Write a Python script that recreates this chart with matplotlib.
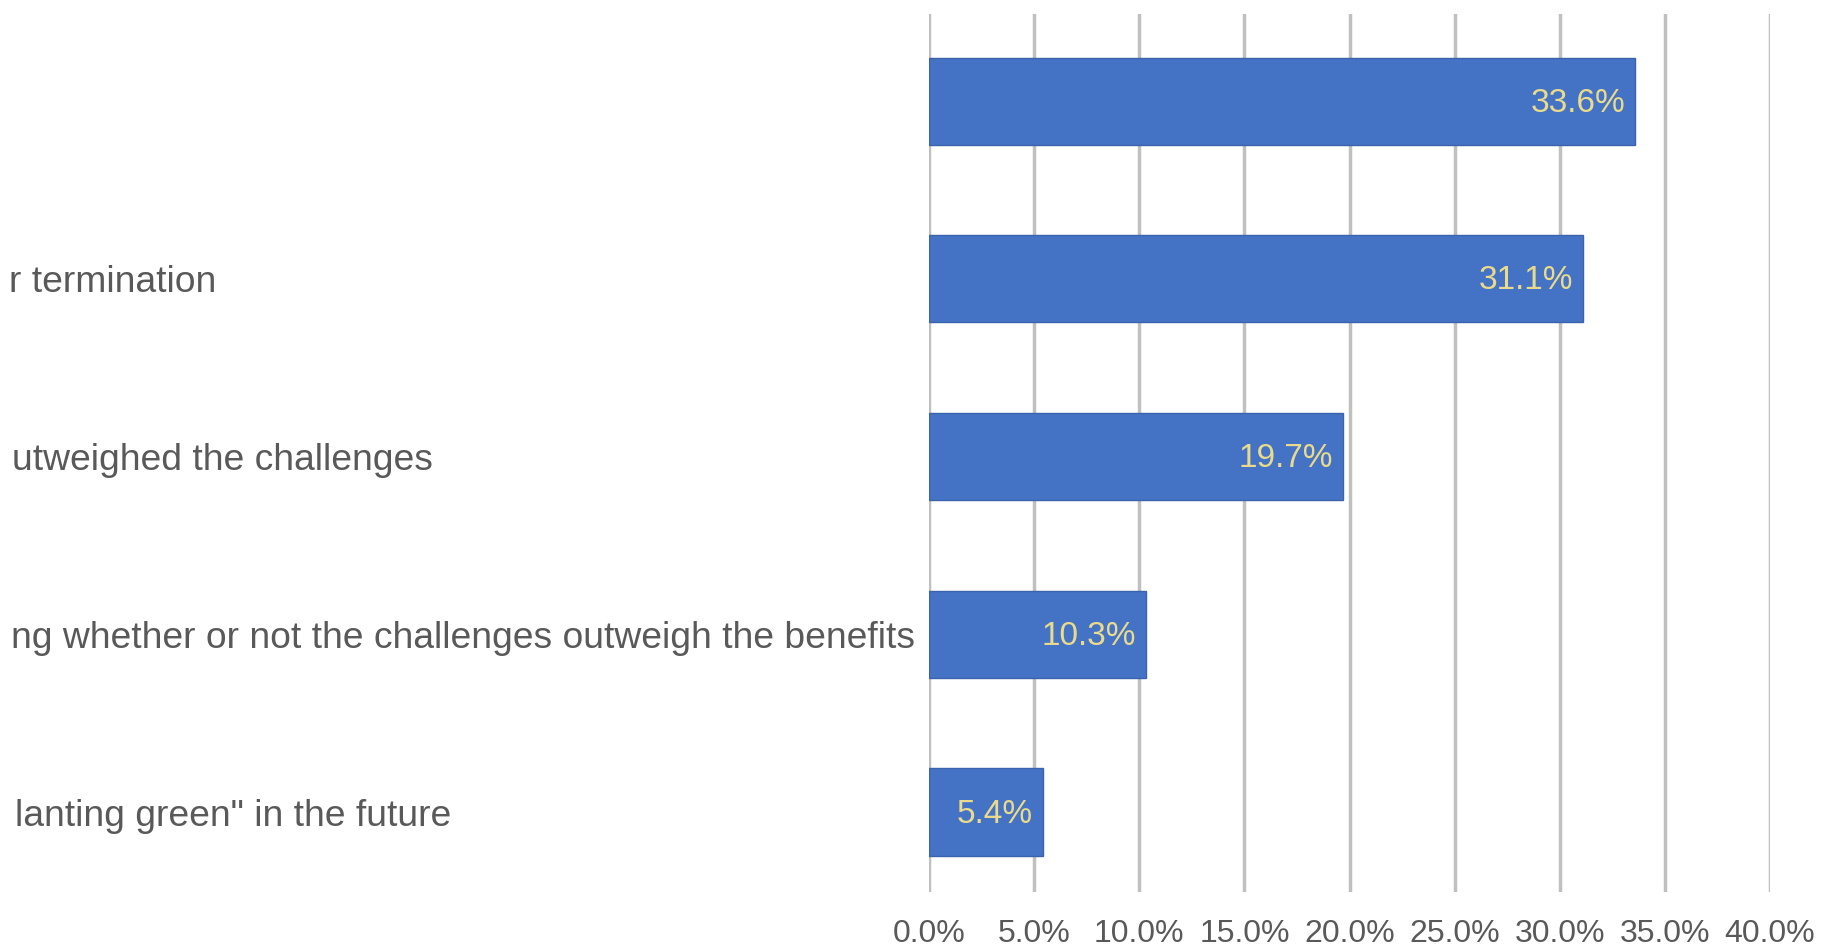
import matplotlib.pyplot as plt
from matplotlib.ticker import FuncFormatter

# Visible (cropped) category labels, top to bottom; the first one is cut off entirely
labels = [
    "",
    "r termination",
    "utweighed the challenges",
    "ng whether or not the challenges outweigh the benefits",
    "lanting green\" in the future",
]
values = [33.6, 31.1, 19.7, 10.3, 5.4]

# right edge of each cropped label, in figure pixels (labels are left aligned off-canvas)
label_right_px = [0, 216, 433, 915, 451]

bar_color = "#4472C4"
label_color = "#EADB8C"
text_gray = "#595959"

fig = plt.figure(figsize=(18.21, 9.47), dpi=100)
ax_left = 929
ax = fig.add_axes([ax_left / 1821, 55 / 947, 841 / 1821, 878 / 947])

y = list(range(len(values)))
bars = ax.barh(y, values, height=0.49, color=bar_color,
               edgecolor="#3b63ad", linewidth=1, zorder=3)

for bar, v in zip(bars, values):
    ax.annotate(f"{v:.1f}%", xy=(bar.get_width(), bar.get_y() + bar.get_height() / 2),
                xytext=(-10, -2), textcoords="offset pixels",
                ha="right", va="center", fontsize=24,
                color=label_color, family="Liberation Sans", zorder=4)

ax.set_xlim(0, 40)
ax.set_ylim(4.45, -0.49)
ax.set_xticks(range(0, 41, 5))
ax.xaxis.set_major_formatter(FuncFormatter(lambda x, _: f"{x:.1f}%"))
ax.set_yticks([])

# category labels
for yi, lab, rpx in zip(y, labels, label_right_px):
    if not lab:
        continue
    ax.annotate(lab, xy=(0, yi), xycoords=("axes fraction", "data"),
                xytext=(rpx - ax_left, -4), textcoords="offset pixels",
                ha="right", va="center", fontsize=26.8, color=text_gray,
                family="Liberation Sans", annotation_clip=False)

ax.xaxis.grid(True, color="#c0c0c0", linewidth=2.5, zorder=0)
for s in ax.spines.values():
    s.set_visible(False)
ax.tick_params(axis="both", length=0)
ax.tick_params(axis="x", pad=19.5, labelsize=23, labelcolor=text_gray)
for t in ax.get_xticklabels():
    t.set_family("Liberation Sans")

fig.savefig("out.png", dpi=100)
